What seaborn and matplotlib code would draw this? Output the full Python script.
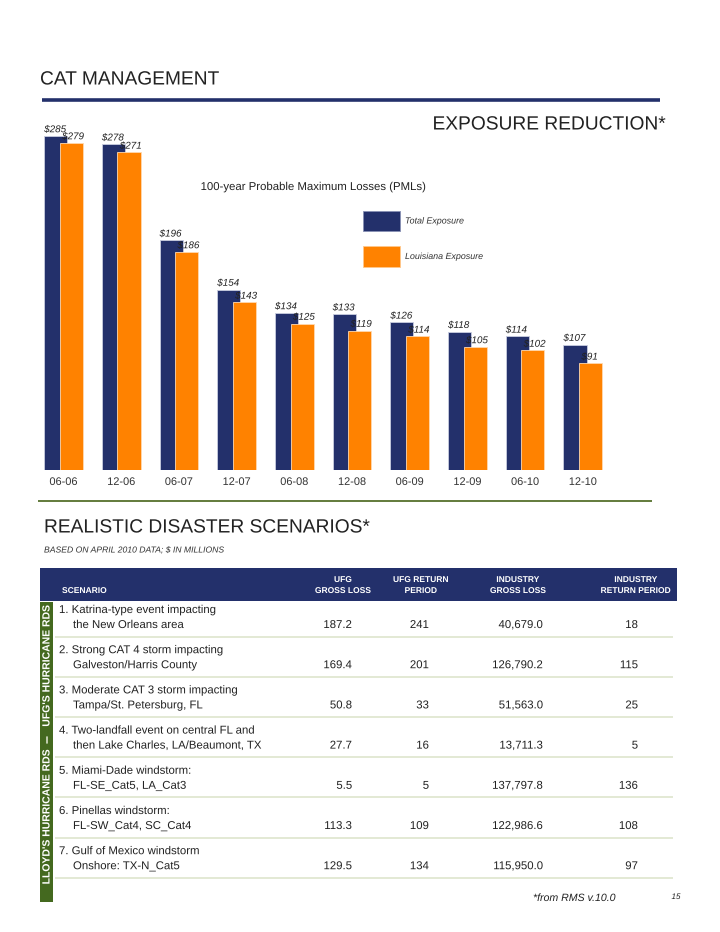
import numpy as np
import matplotlib
matplotlib.use("Agg")
import matplotlib.pyplot as plt
import matplotlib.patheffects as pe
import seaborn as sns
from matplotlib.patches import Rectangle

# ---------------- data ----------------
periods = ["06-06", "12-06", "06-07", "12-07", "06-08", "12-08", "06-09", "12-09", "06-10", "12-10"]
total_exposure = [285, 278, 196, 154, 134, 133, 126, 118, 114, 107]
louisiana_exposure = [279, 271, 186, 143, 125, 119, 114, 105, 102, 91]

scenario_line1 = ["1. Katrina-type event impacting",
                  "2. Strong CAT 4 storm impacting",
                  "3. Moderate CAT 3 storm impacting",
                  "4. Two-landfall event on central FL and",
                  "5. Miami-Dade windstorm:",
                  "6. Pinellas windstorm:",
                  "7. Gulf of Mexico windstorm"]
scenario_line2 = ["the New Orleans area",
                  "Galveston/Harris County",
                  "Tampa/St. Petersburg, FL",
                  "then Lake Charles, LA/Beaumont, TX",
                  "FL-SE_Cat5, LA_Cat3",
                  "FL-SW_Cat4, SC_Cat4",
                  "Onshore: TX-N_Cat5"]
ufg_gross_loss = [187.2, 169.4, 50.8, 27.7, 5.5, 113.3, 129.5]
ufg_return_period = [241, 201, 33, 16, 5, 109, 134]
industry_gross_loss = [40679.0, 126790.2, 51563.0, 13711.3, 137797.8, 122986.6, 115950.0]
industry_return_period = [18, 115, 25, 5, 136, 108, 97]
group_labels = ["UFG'S HURRICANE RDS", "LLOYD'S HURRICANE RDS"]

# ---------------- style ----------------
sns.set_style("white")
plt.rcParams["font.family"] = ["Liberation Sans", "DejaVu Sans"]
PE = [pe.Normal()]  # draw text as outlines for exact baseline placement

NAVY = "#23306b"
ORANGE = "#ff8200"
GREEN = "#44691f"
OLIVE = "#56712c"
SEP = "#e3e9d4"
TXT = "#222222"

W, H = 720, 932
fig = plt.figure(figsize=(W / 100, H / 100), dpi=100)
fig.patch.set_facecolor("white")

# page overlay in pixel coordinates
page = fig.add_axes([0, 0, 1, 1])
page.set_xlim(0, W)
page.set_ylim(H, 0)
page.axis("off")


def T(x, y, s, **kw):
    kw.setdefault("color", TXT)
    return page.text(x, y, s, path_effects=PE, **kw)


T(40, 80, "CAT MANAGEMENT", fontsize=13.8, va="center", ha="left")
page.plot([42, 660], [100, 100], color=NAVY, lw=2.6, solid_capstyle="butt")
T(665, 125, "EXPOSURE REDUCTION*", fontsize=13.8, va="center", ha="right")

# ---------------- bar chart ----------------
px_unit = 57.7
left_px = 63.5 - 0.6 * px_unit
ax = fig.add_axes([left_px / W, (H - 470) / H, 10.2 * px_unit / W, 350 / H])
ax.set_facecolor("none")

idx = np.arange(len(periods))
off = 0.135
bw = 0.4
sns.barplot(x=idx - off, y=total_exposure, native_scale=True, width=bw,
            color=NAVY, saturation=1, edgecolor="#c9cde0", linewidth=0.6, ax=ax, zorder=2)
sns.barplot(x=idx + off, y=louisiana_exposure, native_scale=True, width=bw,
            color=ORANGE, saturation=1, edgecolor="#ffd9b0", linewidth=0.6, ax=ax, zorder=3)

ax.set_xlim(-0.6, 9.6)
ax.set_ylim(0, 350 / (334 / 285))
for i, v in enumerate(total_exposure):
    ax.text(i - off - bw / 2, v + 1.5, f"${v}", fontsize=7.1, style="italic",
            color=TXT, ha="left", va="bottom", zorder=5, path_effects=PE)
for i, v in enumerate(louisiana_exposure):
    ax.text(i + off - bw / 2 + 0.04, v + 1.5, f"${v}", fontsize=7.1, style="italic",
            color=TXT, ha="left", va="bottom", zorder=5, path_effects=PE)

ax.set_xticks(idx)
ax.set_xticklabels(periods, fontsize=7.9, color="#333333")
for t in ax.get_xticklabels():
    t.set_path_effects(PE)
ax.tick_params(axis="x", length=0, pad=5)
ax.set_yticks([])
ax.set_xlabel("")
ax.set_ylabel("")
for s in ax.spines.values():
    s.set_visible(False)

# chart title and legend (in page pixels)
T(313, 187, "100-year Probable Maximum Losses (PMLs)", fontsize=8.2, ha="center", va="center")
page.add_patch(Rectangle((363, 211), 37, 20, facecolor=NAVY, edgecolor="#8890b5", lw=0.6))
T(405, 221, "Total Exposure", fontsize=6.4, style="italic", color="#333333", va="center")
page.add_patch(Rectangle((363, 246), 37, 21, facecolor=ORANGE, edgecolor="#ffc88c", lw=0.6))
T(405, 256.5, "Louisiana Exposure", fontsize=6.4, style="italic", color="#333333", va="center")

page.plot([38, 652], [501, 501], color=OLIVE, lw=1.3, solid_capstyle="butt")

# ---------------- table ----------------
T(44, 528, "REALISTIC DISASTER SCENARIOS*", fontsize=13.8, va="center", ha="left")
T(44, 550, "BASED ON APRIL 2010 DATA; $ IN MILLIONS", fontsize=6.2, style="italic",
  color="#333333", va="center", ha="left")

page.add_patch(Rectangle((40, 568), 637, 33, facecolor=NAVY, edgecolor="none"))
hdr = dict(fontsize=6.1, fontweight="bold", color="white", va="baseline", ha="center")
T(62, 593, "SCENARIO", **{**hdr, "ha": "left"})
header_cols = [(343, "UFG", "GROSS LOSS"), (421, "UFG RETURN", "PERIOD"),
               (518, "INDUSTRY", "GROSS LOSS"), (636, "INDUSTRY", "RETURN PERIOD")]
for xc, l1, l2 in header_cols:
    T(xc, 582, l1, **hdr)
    T(xc, 593, l2, **hdr)

# side group bar
page.add_patch(Rectangle((40, 602), 13, 300, facecolor=GREEN, edgecolor="none"))
page.plot([46.5, 46.5], [737, 743], color="#d7dfc8", lw=1.2)
T(46.5, 666, group_labels[0], rotation=90, fontsize=7.5, fontweight="bold",
  color="white", ha="center", va="center")
T(46.5, 817, group_labels[1], rotation=90, fontsize=7.5, fontweight="bold",
  color="white", ha="center", va="center")

row_fs = 8.2
rt = dict(fontsize=row_fs, va="baseline")
for i in range(len(scenario_line1)):
    b1 = 613 + 40.2 * i
    b2 = b1 + 15
    T(59, b1, scenario_line1[i], ha="left", **rt)
    T(73, b2, scenario_line2[i], ha="left", **rt)
    T(352, b2, f"{ufg_gross_loss[i]:.1f}", ha="right", **rt)
    T(429, b2, f"{ufg_return_period[i]}", ha="right", **rt)
    T(543, b2, f"{industry_gross_loss[i]:,.1f}", ha="right", **rt)
    T(638, b2, f"{industry_return_period[i]}", ha="right", **rt)
    ys = b1 + 23.5
    page.plot([55, 673], [ys, ys], color=SEP, lw=1.4, solid_capstyle="butt")

T(533, 901, "*from RMS v.10.0", fontsize=7.6, style="italic", va="baseline", ha="left")
T(676, 899, "15", fontsize=5.8, style="italic", va="baseline", ha="center")

fig.savefig("out.png", dpi=100, facecolor="white")
